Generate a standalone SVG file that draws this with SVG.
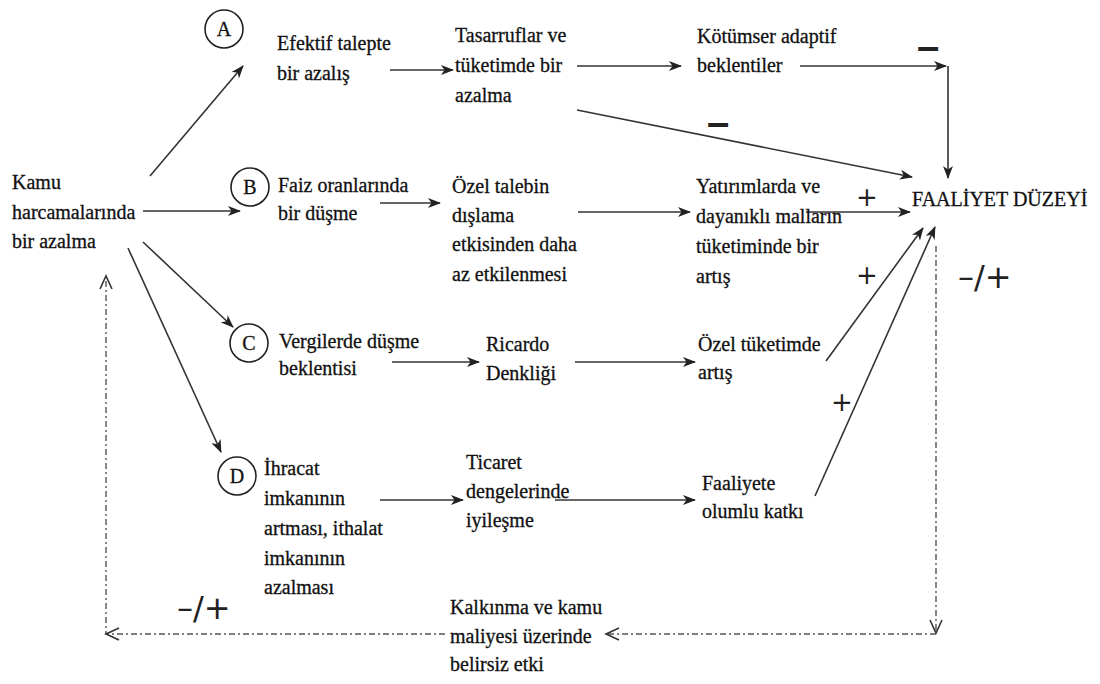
<svg xmlns="http://www.w3.org/2000/svg" width="1100" height="684" viewBox="0 0 1100 684">
<defs>
<marker id="ah" viewBox="0 0 13 10" refX="12" refY="5" markerWidth="13" markerHeight="10" markerUnits="userSpaceOnUse" orient="auto">
<path d="M0,0 L13,5 L0,10 L3.5,5 z" fill="#222"/>
</marker>
<style>
text{font-family:"Liberation Serif","Times New Roman",serif;font-size:20px;fill:#111;stroke:#111;stroke-width:0.3}
.c{fill:none;stroke:#222;stroke-width:1.6}
.s{font-family:"DejaVu Sans","Liberation Sans",sans-serif;font-size:26px;stroke:none;fill:#222}
.m{font-family:"Liberation Sans",sans-serif;font-size:40px;font-weight:bold;stroke:none;fill:#222}
.q{font-family:"DejaVu Sans","Liberation Sans",sans-serif;font-size:32px;stroke:none;fill:#222}
.cl{text-anchor:middle}
.cn line,.cn path{fill:none;stroke:#333;stroke-width:1.6}
.cn .dd{stroke:#555;stroke-width:1.4;stroke-dasharray:6 3 2 3}
</style>
</defs>
<rect width="1100" height="684" fill="#fff"/>
<g id="connectors" class="cn">
<line x1="150" y1="176" x2="243" y2="66" marker-end="url(#ah)"/>
<line x1="143" y1="211" x2="240" y2="211" marker-end="url(#ah)"/>
<line x1="143" y1="242" x2="233" y2="327" marker-end="url(#ah)"/>
<line x1="128" y1="248" x2="221" y2="452" marker-end="url(#ah)"/>
<line x1="390" y1="70" x2="453" y2="70" marker-end="url(#ah)"/>
<line x1="577" y1="66" x2="681" y2="66" marker-end="url(#ah)"/>
<line x1="800" y1="66" x2="946" y2="66" marker-end="url(#ah)"/>
<line x1="948" y1="66" x2="948" y2="178" marker-end="url(#ah)"/>
<line x1="577" y1="110" x2="912" y2="177" marker-end="url(#ah)"/>
<line x1="380" y1="203" x2="440" y2="203" marker-end="url(#ah)"/>
<line x1="578" y1="212" x2="690" y2="212" marker-end="url(#ah)"/>
<line x1="806" y1="212" x2="910" y2="212" marker-end="url(#ah)"/>
<line x1="392" y1="362" x2="479" y2="362" marker-end="url(#ah)"/>
<line x1="575" y1="362" x2="695" y2="362" marker-end="url(#ah)"/>
<line x1="826" y1="361" x2="923" y2="228" marker-end="url(#ah)"/>
<line x1="380" y1="500" x2="463" y2="500" marker-end="url(#ah)"/>
<line x1="555" y1="500" x2="695" y2="500" marker-end="url(#ah)"/>
<line x1="815" y1="496" x2="935" y2="227" marker-end="url(#ah)"/>
<path class="dd" d="M936,246 L936,633"/>
<path d="M930,620 L936,633 L942,620"/>
<path class="dd" d="M936,634 L608,634"/>
<path d="M619,628 L606,634 L619,640"/>
<path class="dd" d="M445,634 L106,634 L106,276"/>
<path d="M119,628 L106,634 L119,640"/>
<path d="M100,289 L106,276 L112,289"/>
</g>
<g id="kamu"><text x="12" y="189">Kamu</text><text x="12" y="219">harcamalarında</text><text x="12" y="248">bir azalma</text></g>
<g id="A"><circle class="c" cx="224" cy="29" r="19"/><text class="cl" x="224" y="36">A</text></g>
<g id="B"><circle class="c" cx="250" cy="187" r="19"/><text class="cl" x="250" y="194">B</text></g>
<g id="C"><circle class="c" cx="249" cy="343" r="19"/><text class="cl" x="249" y="350">C</text></g>
<g id="D"><circle class="c" cx="237" cy="476" r="19"/><text class="cl" x="237" y="483">D</text></g>
<g id="efektif"><text x="277" y="50">Efektif talepte</text><text x="277" y="80">bir azalış</text></g>
<g id="tasarruf"><text x="455" y="42">Tasarruflar ve</text><text x="455" y="72">tüketimde bir</text><text x="455" y="102">azalma</text></g>
<g id="kotumser"><text x="697" y="43">Kötümser adaptif</text><text x="697" y="72">beklentiler</text></g>
<g id="faiz"><text x="278" y="192">Faiz oranlarında</text><text x="278" y="220">bir düşme</text></g>
<g id="ozeltalep"><text x="452" y="193">Özel talebin</text><text x="452" y="222">dışlama</text><text x="452" y="251">etkisinden daha</text><text x="452" y="281">az etkilenmesi</text></g>
<g id="yatirim"><text x="696" y="193">Yatırımlarda ve</text><text x="696" y="223">dayanıklı malların</text><text x="696" y="253">tüketiminde bir</text><text x="696" y="283">artış</text></g>
<g id="faaliyet"><text x="912" y="206">FAALİYET DÜZEYİ</text></g>
<g id="vergi"><text x="279" y="348">Vergilerde düşme</text><text x="279" y="375">beklentisi</text></g>
<g id="ricardo"><text x="486" y="351">Ricardo</text><text x="486" y="380">Denkliği</text></g>
<g id="ozeltuketim"><text x="698" y="351">Özel tüketimde</text><text x="698" y="379">artış</text></g>
<g id="ihracat"><text x="264" y="475">İhracat</text><text x="264" y="505">imkanının</text><text x="264" y="535">artması, ithalat</text><text x="264" y="565">imkanının</text><text x="264" y="594">azalması</text></g>
<g id="ticaret"><text x="466" y="469">Ticaret</text><text x="466" y="498">dengelerinde</text><text x="466" y="527">iyileşme</text></g>
<g id="faaliyete"><text x="702" y="490">Faaliyete</text><text x="702" y="518">olumlu katkı</text></g>
<g id="kalkinma"><text x="450" y="614">Kalkınma ve kamu</text><text x="450" y="643">maliyesi üzerinde</text><text x="450" y="671">belirsiz etki</text></g>
<g id="signs">
<text class="m" x="917" y="60">–</text>
<text class="m" x="707" y="136">–</text>
<text class="s" x="856" y="206">+</text>
<text class="s" x="856" y="284">+</text>
<text class="s" x="831" y="411">+</text>
<text class="q" x="958" y="288">–/+</text>
<text class="q" x="177" y="619">–/+</text>
</g>
</svg>
